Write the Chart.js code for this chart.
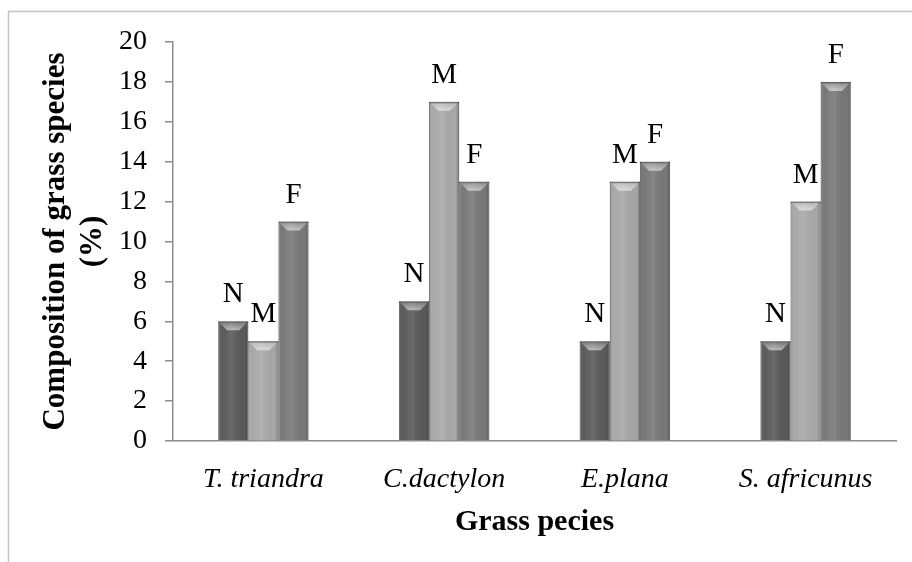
<!DOCTYPE html>
<html>
<head>
<meta charset="utf-8">
<script src="https://cdn.jsdelivr.net/npm/chart.js@4"></script>
<style>
  html, body { margin: 0; padding: 0; background: #fff; }
  #wrap { width: 912px; height: 562px; }
</style>
</head>
<body>
<div id="wrap"><canvas id="grassChart" width="912" height="562"></canvas></div>
<script>
(function () {
  'use strict';

  var species = ['T. triandra', 'C.dactylon', 'E.plana', 'S. africunus'];
  var seriesNames = ['N', 'M', 'F'];
  var valuesN = [6, 7, 5, 5];
  var valuesM = [5, 17, 13, 12];
  var valuesF = [11, 13, 14, 18];
  var yTitle = ['Composition of grass species', '(%)'];
  var xTitle = 'Grass pecies';

  var serif = '"Liberation Serif", "Times New Roman", serif';
  var axisColor = '#8c8c8c';
  var fills = ['#5a5a5a', '#a8a8a8', '#787878'];

  // page frame (thin gray lines at top and left)
  var framePlugin = {
    id: 'frame',
    beforeDraw: function (chart) {
      var ctx = chart.ctx;
      ctx.save();
      ctx.strokeStyle = '#c4c4c4';
      ctx.lineWidth = 1.5;
      ctx.beginPath();
      ctx.moveTo(8.5, chart.height);
      ctx.lineTo(8.5, 11.5);
      ctx.lineTo(chart.width, 11.5);
      ctx.stroke();
      ctx.restore();
    }
  };

  // bevel shading + letters over each bar
  var barDecor = {
    id: 'barDecor',
    afterDatasetsDraw: function (chart) {
      var ctx = chart.ctx;
      chart.data.datasets.forEach(function (ds, di) {
        var meta = chart.getDatasetMeta(di);
        meta.data.forEach(function (bar) {
          var p = bar.getProps(['x', 'y', 'base', 'width'], true);
          var l = p.x - p.width / 2, r = p.x + p.width / 2;
          var g = ctx.createLinearGradient(l, 0, r, 0);
          g.addColorStop(0, 'rgba(0,0,0,0.22)');
          g.addColorStop(0.12, 'rgba(255,255,255,0.0)');
          g.addColorStop(0.45, 'rgba(255,255,255,0.10)');
          g.addColorStop(0.88, 'rgba(0,0,0,0.0)');
          g.addColorStop(1, 'rgba(0,0,0,0.25)');
          ctx.save();
          ctx.fillStyle = g;
          ctx.fillRect(l, p.y, p.width, p.base - p.y);
          // top bevel
          var bev = 9;
          var tg = ctx.createLinearGradient(0, p.y, 0, p.y + bev);
          tg.addColorStop(0, 'rgba(255,255,255,0.15)');
          tg.addColorStop(1, 'rgba(255,255,255,0.55)');
          ctx.beginPath();
          ctx.moveTo(l, p.y);
          ctx.lineTo(r, p.y);
          ctx.lineTo(r - bev, p.y + bev);
          ctx.lineTo(l + bev, p.y + bev);
          ctx.closePath();
          ctx.fillStyle = tg;
          ctx.fill();
          ctx.fillStyle = 'rgba(0,0,0,0.35)';
          ctx.fillRect(l, p.y, p.width, 1.5);
          // letter
          ctx.fillStyle = '#000';
          ctx.font = '29px ' + serif;
          ctx.textAlign = 'center';
          ctx.textBaseline = 'alphabetic';
          ctx.fillText(seriesNames[di], p.x, p.y - 19);
          ctx.restore();
        });
      });
    }
  };

  function makeSet(name, data, i) {
    return {
      label: name,
      data: data,
      backgroundColor: fills[i],
      borderColor: 'rgba(40,40,40,0.6)',
      borderWidth: 1,
      borderSkipped: 'bottom',
      barPercentage: 1.0,
      categoryPercentage: 0.5
    };
  }

  new Chart(document.getElementById('grassChart'), {
    type: 'bar',
    data: {
      labels: species,
      datasets: [
        makeSet(seriesNames[0], valuesN, 0),
        makeSet(seriesNames[1], valuesM, 1),
        makeSet(seriesNames[2], valuesF, 2)
      ]
    },
    options: {
      responsive: false,
      animation: false,
      layout: { padding: { left: 0, right: 16, top: 42, bottom: 22 } },
      plugins: {
        legend: { display: false },
        tooltip: { enabled: false }
      },
      scales: {
        x: {
          grid: { display: false, drawTicks: false },
          border: { display: true, color: axisColor, width: 1.5 },
          ticks: {
            color: '#000',
            padding: 22,
            font: { family: serif, size: 28, style: 'italic' }
          },
          title: {
            display: true,
            text: xTitle,
            color: '#000',
            padding: 0,
            font: { family: serif, size: 30, weight: 'bold', lineHeight: 1.2 }
          },
          afterFit: function (scale) { scale.height = 99; }
        },
        y: {
          min: 0,
          max: 20,
          grid: {
            drawOnChartArea: false,
            drawTicks: true,
            tickLength: 8,
            color: axisColor,
            lineWidth: 1.5
          },
          border: { display: true, color: axisColor, width: 1.5 },
          ticks: {
            stepSize: 2,
            color: '#000',
            padding: 18,
            font: { family: serif, size: 28 }
          },
          title: {
            display: true,
            text: yTitle,
            color: '#000',
            padding: { top: 38, bottom: 0 },
            font: { family: serif, size: 31, weight: 'bold', lineHeight: 1.18 }
          },
          afterFit: function (scale) { scale.width = 173; }
        }
      }
    },
    plugins: [framePlugin, barDecor]
  });
})();
</script>
</body>
</html>
